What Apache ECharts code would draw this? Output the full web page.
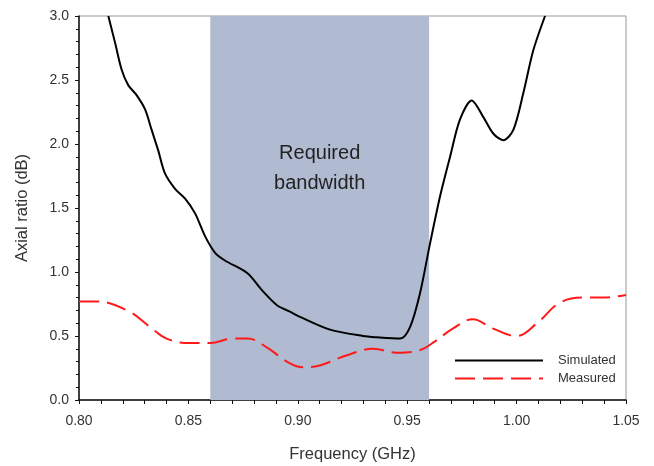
<!DOCTYPE html>
<html>
<head>
<meta charset="utf-8">
<script src="https://cdn.jsdelivr.net/npm/echarts@6/dist/echarts.min.js"></script>
<style>
  html, body { margin: 0; padding: 0; background: #fff; }
  #chart { width: 654px; height: 466px; }
</style>
</head>
<body>
<div id="chart"></div>
<script>
// simulated axial ratio (black solid)
const simFreq = [0.8134, 0.8165, 0.8195, 0.8225, 0.8264, 0.8302, 0.8332, 0.8362, 0.8393, 0.8439,
  0.8484, 0.853, 0.8576, 0.8622, 0.8667, 0.877, 0.8835, 0.8905, 0.8964, 0.901, 0.9147,
  0.9298, 0.936, 0.9467, 0.9513, 0.9558, 0.9604, 0.965, 0.9696, 0.9741, 0.9795, 0.9848,
  0.9894, 0.9939, 0.9985, 1.0031, 1.0076, 1.013];
const simAR = [3.0, 2.79, 2.58, 2.46, 2.38, 2.27, 2.11, 1.95, 1.77, 1.65,
  1.575, 1.46, 1.28, 1.15, 1.09, 0.99, 0.86, 0.74, 0.69, 0.65, 0.55,
  0.50, 0.49, 0.48, 0.57, 0.83, 1.22, 1.59, 1.90, 2.19, 2.34, 2.21,
  2.08, 2.03, 2.11, 2.40, 2.73, 3.0];

// measured axial ratio (red dashed)
const measFreq = [0.80, 0.808, 0.822, 0.8325, 0.840, 0.8507, 0.860, 0.8704, 0.877, 0.886,
  0.895, 0.9025, 0.910, 0.9225, 0.9345, 0.945, 0.956, 0.962, 0.971, 0.980, 0.989,
  1.000, 1.0093, 1.0198, 1.0304, 1.0395, 1.05];
const measAR = [0.77, 0.77, 0.70, 0.57, 0.48, 0.445, 0.445, 0.48, 0.48, 0.41,
  0.30, 0.255, 0.27, 0.35, 0.40, 0.37, 0.39, 0.45, 0.56, 0.63, 0.56,
  0.50, 0.60, 0.76, 0.80, 0.80, 0.82];

const bandStart = 0.86;
const bandEnd = 0.96;

const chart = echarts.init(document.getElementById('chart'));

const font = 'Liberation Sans, Arial, sans-serif';
const axisText = { color: '#333', fontSize: 14, fontFamily: font };
const nameText = { color: '#333', fontSize: 16.5, fontFamily: font };

chart.setOption({
  animation: false,
  backgroundColor: '#fff',
  grid: {
    left: 79, right: 28, top: 16, bottom: 66,
    outerBoundsMode: 'none',
    show: true,
    borderColor: '#999',
    borderWidth: 1
  },
  legend: {
    left: 449, top: 349,
    orient: 'vertical',
    itemWidth: 88,
    itemHeight: 12,
    itemGap: 5,
    itemStyle: { opacity: 0 },
    textStyle: { color: '#333', fontSize: 13, fontFamily: font, padding: [0, 0, 0, 10] },
    data: ['Simulated', 'Measured']
  },
  xAxis: {
    type: 'value',
    min: 0.8, max: 1.05, interval: 0.05,
    name: 'Frequency (GHz)',
    nameLocation: 'middle',
    nameGap: 46,
    nameTextStyle: nameText,
    axisLine: { lineStyle: { color: '#111', width: 1.5 } },
    axisTick: { length: 4, lineStyle: { color: '#111' } },
    minorTick: { show: true, splitNumber: 5, length: 4, lineStyle: { color: '#111' } },
    splitLine: { show: false },
    axisLabel: Object.assign({ margin: 14, formatter: v => v.toFixed(2) }, axisText)
  },
  yAxis: {
    type: 'value',
    min: 0, max: 3, interval: 0.5,
    name: 'Axial ratio (dB)',
    nameLocation: 'middle',
    nameGap: 48,
    nameTextStyle: nameText,
    axisLine: { show: true, lineStyle: { color: '#111', width: 1.5 } },
    axisTick: { show: true, length: 4, lineStyle: { color: '#111' } },
    minorTick: { show: true, splitNumber: 5, length: 3, lineStyle: { color: '#111' } },
    splitLine: { show: false },
    axisLabel: Object.assign({ margin: 10, formatter: v => v.toFixed(1) }, axisText)
  },
  series: [
    {
      name: 'Simulated',
      type: 'line',
      data: simFreq.map((f, i) => [f, simAR[i]]),
      smooth: 0.3,
      showSymbol: false,
      symbol: 'none',
      clip: true,
      z: 3,
      lineStyle: { color: '#000', width: 2 },
      itemStyle: { color: '#000' },
      markArea: {
        silent: true,
        itemStyle: { color: '#b0bbd1' },
        label: {
          show: true,
          position: 'insideTop',
          distance: 122,
          formatter: 'Required\nbandwidth',
          color: '#222',
          fontSize: 20,
          lineHeight: 30,
          fontFamily: font
        },
        data: [[{ xAxis: bandStart }, { xAxis: bandEnd }]]
      }
    },
    {
      name: 'Measured',
      type: 'line',
      data: measFreq.map((f, i) => [f, measAR[i]]),
      smooth: 0.4,
      showSymbol: false,
      symbol: 'none',
      z: 3,
      lineStyle: { color: '#ff1a1a', width: 2, type: [20, 8] },
      itemStyle: { color: '#ff1a1a' }
    }
  ]
});
</script>
</body>
</html>
